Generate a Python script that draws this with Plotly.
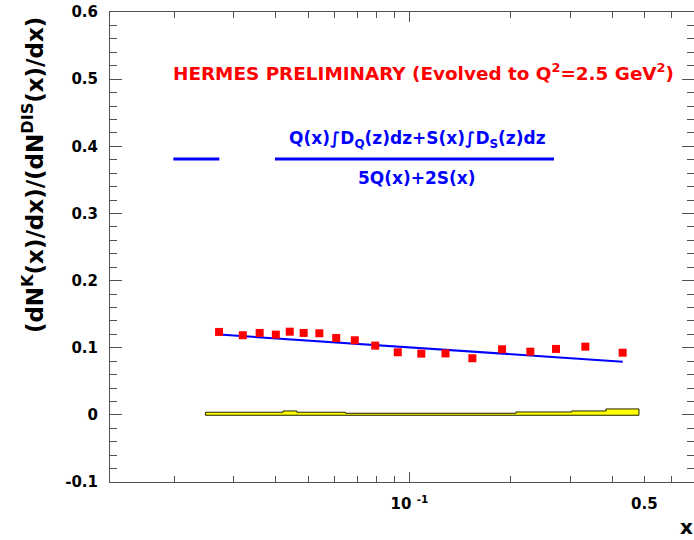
import numpy as np
import plotly.graph_objects as go

# Data points (HERMES preliminary kaon / DIS multiplicity ratio)
x_data = [0.0272, 0.0320, 0.0359, 0.0401, 0.0441, 0.0485, 0.0540, 0.0606, 0.0688, 0.0791,
          0.0923, 0.1084, 0.1279, 0.1537, 0.1883, 0.2284, 0.2723, 0.3327, 0.4295]
y_data = [0.1235, 0.1186, 0.1220, 0.1195, 0.1239, 0.1220, 0.1215, 0.1145, 0.1111, 0.1031,
          0.0932, 0.0912, 0.0915, 0.0843, 0.0977, 0.0941, 0.0982, 0.1016, 0.0926]

# Theory curve
x_curve = [0.0272, 0.0359, 0.0485, 0.0688, 0.0923, 0.1279, 0.1883, 0.2723, 0.3327, 0.4295]
y_curve = [0.1195, 0.1154, 0.1110, 0.1059, 0.1016, 0.0968, 0.0913, 0.0858, 0.0830, 0.0792]

# Systematic error band (stepped)
band_edges = [0.0248, 0.0421, 0.0463, 0.0646, 0.2071, 0.3031, 0.3831, 0.4800]
band_top = [0.0039, 0.0058, 0.0039, 0.0024, 0.0043, 0.0058, 0.0088]
band_bottom = -0.0006

# Axis ticks
y_ticks = [-0.1, 0, 0.1, 0.2, 0.3, 0.4, 0.5, 0.6]
y_ticktext = ["-0.1", "0", "0.1", "0.2", "0.3", "0.4", "0.5", "0.6"]
y_minor = [round(-0.1 + 0.02 * i, 2) for i in range(36)]
x_major = [0.1]
x_major_text = ["10 <sup>-1</sup>"]
x_minor = [0.02, 0.03, 0.04, 0.05, 0.06, 0.07, 0.08, 0.09, 0.2, 0.3, 0.4, 0.5, 0.6]

FONT = "DejaVu Sans"
AXC = "#505050"

# build stepped band polygon
bx, by = [], []
for i, t in enumerate(band_top):
    bx += [band_edges[i], band_edges[i + 1]]
    by += [t, t]
poly_x = [band_edges[0]] + bx + [band_edges[-1], band_edges[0]]
poly_y = [band_bottom] + by + [band_bottom, band_bottom]

fig = go.Figure()
fig.add_trace(go.Scatter(x=poly_x, y=poly_y, mode="lines", fill="toself",
                         fillcolor="#ffff00", line=dict(color="#222200", width=1),
                         hoverinfo="skip", showlegend=False))
fig.add_trace(go.Scatter(x=x_curve, y=y_curve, mode="lines",
                         line=dict(color="#0000ff", width=2), showlegend=False))
fig.add_trace(go.Scatter(x=x_data, y=y_data, mode="markers",
                         marker=dict(symbol="square", size=8, color="#ff0000"),
                         showlegend=False))

fig.update_layout(
    width=694, height=540,
    margin=dict(l=110, r=0, t=12, b=58),
    paper_bgcolor="white", plot_bgcolor="white",
    font=dict(family=FONT, size=15, color="black", weight="bold"),
    xaxis=dict(type="log", range=[-1.8892, -0.1553], showgrid=False, zeroline=False,
               showline=True, linecolor=AXC, linewidth=1, mirror="ticks",
               ticks="inside", ticklen=10, tickcolor=AXC, tickwidth=1,
               tickvals=x_major, ticktext=x_major_text, ticklabelstandoff=8,
               tickfont=dict(family=FONT, size=15, weight="bold"),
               minor=dict(tickvals=x_minor, ticks="inside", ticklen=6, tickcolor=AXC)),
    yaxis=dict(range=[-0.1, 0.6], showgrid=False, zeroline=False,
               showline=True, linecolor=AXC, linewidth=1, mirror="ticks",
               ticks="inside", ticklen=12, tickcolor=AXC, tickwidth=1,
               tickvals=y_ticks, ticktext=y_ticktext, ticklabelstandoff=8,
               tickfont=dict(family=FONT, size=15, weight="bold"),
               minor=dict(tickvals=y_minor, ticks="inside", ticklen=7, tickcolor=AXC)),
)

ann = []
ann.append(dict(text="(dN<sup>K</sup>(x)/dx)/(dN<sup>DIS</sup>(x)/dx)", xref="paper", yref="paper",
                x=-0.1318, y=0.6530, textangle=-90, showarrow=False,
                xanchor="center", yanchor="middle",
                font=dict(family=FONT, size=23, color="black", weight="bold")))
ann.append(dict(text="x", xref="paper", yref="paper", x=0.9870, y=-0.0960, showarrow=False,
                xanchor="center", yanchor="middle",
                font=dict(family=FONT, size=20, color="black", weight="bold")))
ann.append(dict(text="0.5", xref="x", yref="paper", x=np.log10(0.5), y=-0.0462, showarrow=False,
                xanchor="center", yanchor="middle",
                font=dict(family=FONT, size=15, color="black", weight="bold")))
ann.append(dict(text="HERMES PRELIMINARY (Evolved to Q<sup>2</sup>=2.5 GeV<sup>2</sup>)",
                xref="paper", yref="paper", x=0.5360, y=0.8720, showarrow=False,
                xanchor="center", yanchor="middle",
                font=dict(family=FONT, size=18.4, color="#ff0000", weight="bold")))
ann.append(dict(text="Q(x)∫D<sub>Q</sub>(z)dz+S(x)∫D<sub>S</sub>(z)dz",
                xref="paper", yref="paper", x=0.5257, y=0.7277, showarrow=False,
                xanchor="center", yanchor="middle",
                font=dict(family=FONT, size=17, color="#0000ff", weight="bold")))
ann.append(dict(text="5Q(x)+2S(x)",
                xref="paper", yref="paper", x=0.5257, y=0.6468, showarrow=False,
                xanchor="center", yanchor="middle",
                font=dict(family=FONT, size=17, color="#0000ff", weight="bold")))
fig.update_layout(annotations=ann)

fig.add_shape(type="line", xref="paper", yref="paper", x0=0.1084, x1=0.1872, y0=0.6872, y1=0.6872,
              line=dict(color="#0000ff", width=3))
fig.add_shape(type="line", xref="paper", yref="paper", x0=0.2825, x1=0.7603, y0=0.6872, y1=0.6872,
              line=dict(color="#0000ff", width=3))

fig.write_html("out.html")
